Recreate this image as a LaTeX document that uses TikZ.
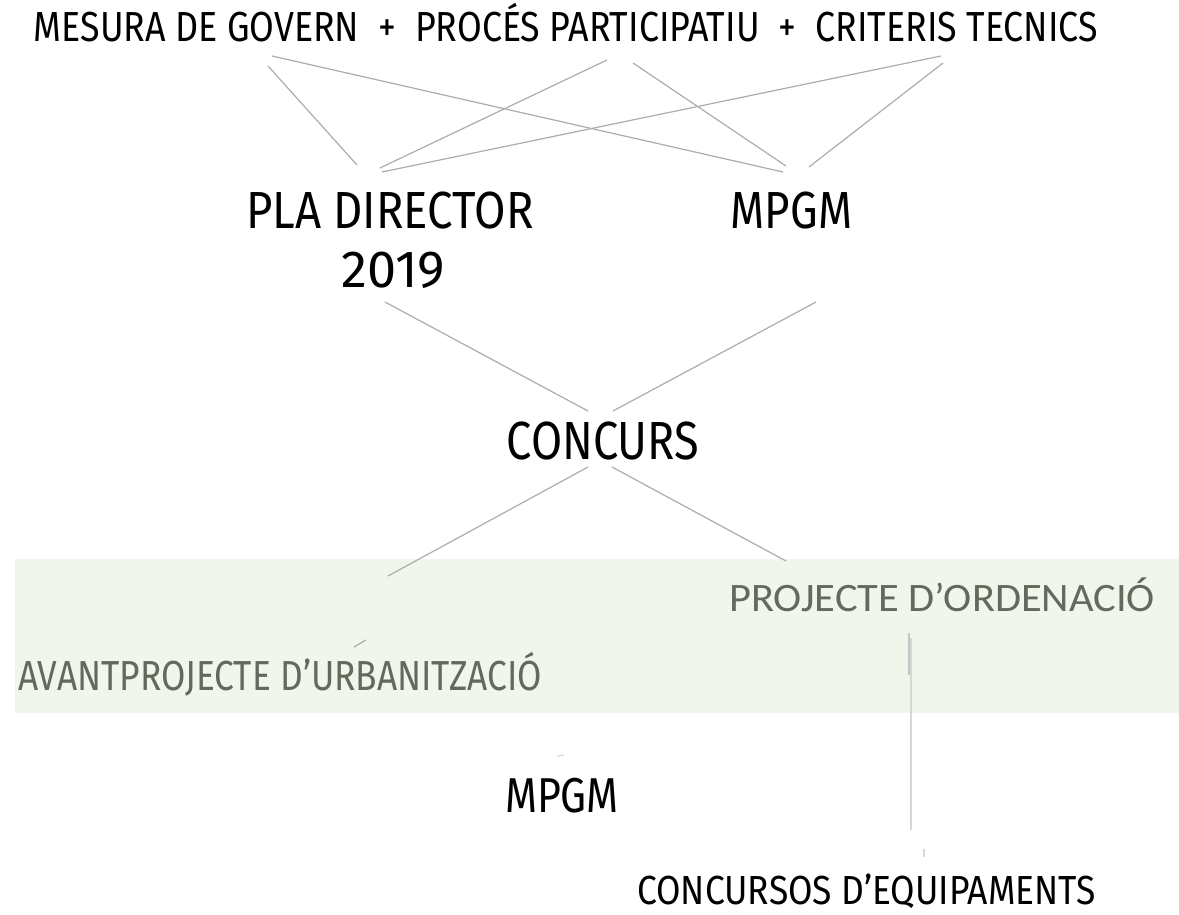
\documentclass[tikz,border=0pt]{standalone}
\usepackage{fontspec}
\usepackage[RGB]{xcolor}
\setmainfont{Fira Sans}
\newfontfamily\dinfont[FakeStretch=0.84]{Fira Sans}
\newfontfamily\dintop[FakeStretch=0.852]{Fira Sans}
\newfontfamily\dinwide[FakeStretch=0.872]{Fira Sans}
\newfontfamily\digfont[FakeStretch=1.0]{Fira Sans}
\newfontfamily\calfont[FakeStretch=1.05]{Carlito}
\definecolor{band}{RGB}{240,246,236}
\definecolor{sage}{RGB}{98,106,92}
\definecolor{wire}{RGB}{172,172,172}
\definecolor{pale}{RGB}{214,214,214}
\tikzset{
  txt/.style={inner sep=0pt, anchor=base},
  link/.style={draw=wire, line width=1.2pt},
}

\begin{document}
\begin{tikzpicture}[x=1pt,y=-1pt]
\useasboundingbox (0,0) rectangle (1179,915);
\fill[band] (15,559) rectangle (1179,713);
% texts
\node[txt, font=\dintop\fontsize{42}{50}\selectfont] (top) at (566,42)
  {MESURA DE GOVERN \ + \ PROCÉS PARTICIPATIU \ + \ CRITERIS TECNICS};
\node[txt, font=\dinwide\fontsize{52.2}{60}\selectfont] (pla) at (390,229) {PLA DIRECTOR};
\node[txt, font=\digfont\fontsize{52.2}{60}\selectfont] (playear) at (393.5,287) {2019};
\node[txt, font=\dinfont\fontsize{52.2}{60}\selectfont] (mpgm) at (791.5,229) {MPGM};
\node[txt, font=\dinfont\fontsize{53.7}{60}\selectfont] (concurs) at (603,459) {CONCURS};
\node[txt, anchor=base west, text=sage, font=\calfont\fontsize{40.4}{45}\selectfont] (ordenacio) at (729,611) {PROJECTE D’ORDENACIÓ};
\node[txt, anchor=base west, text=sage, font=\dinfont\fontsize{42}{45}\selectfont] (avant) at (18,690) {AVANTPROJECTE D’URBANITZACIÓ};
\node[txt, font=\dinfont\fontsize{49}{55}\selectfont] (mpgmb) at (562,812) {MPGM};
\node[txt, anchor=base west, font=\dinwide\fontsize{40.6}{45}\selectfont] (equip) at (637,904) {CONCURSOS D’EQUIPAMENTS};
% line ends
\coordinate (mesA) at (268,66);  \coordinate (mesB) at (272,56);
\coordinate (proA) at (607,60);  \coordinate (proB) at (633,63);
\coordinate (criA) at (941,56);  \coordinate (criB) at (943,63);
\coordinate (plaA) at (357,165); \coordinate (plaB) at (380,168); \coordinate (plaC) at (382,172);
\coordinate (mpgA) at (783,172); \coordinate (mpgB) at (786,166); \coordinate (mpgC) at (809,167);
\coordinate (plaD) at (385,302); \coordinate (mpgD) at (816,302);
\coordinate (conA) at (588,411); \coordinate (conB) at (613,411);
\coordinate (conC) at (588,467); \coordinate (conD) at (612,467);
\coordinate (avaA) at (388,576); \coordinate (ordA) at (786,561);
\draw[link] (mesA) -- (plaA);
\draw[link] (mesB) -- (mpgA);
\draw[link] (proA) -- (plaB);
\draw[link] (proB) -- (mpgB);
\draw[link] (criA) -- (plaC);
\draw[link] (criB) -- (mpgC);
\draw[link] (plaD) -- (conA);
\draw[link] (mpgD) -- (conB);
\draw[link] (conC) -- (avaA);
\draw[link] (conD) -- (ordA);
% small marks
\draw[link] (354,647) -- (366,640);
\draw[draw=pale, line width=1.5pt] (911,638) -- (911,830);
\draw[draw=wire!70, line width=2pt] (909,633) -- (909,675);
\draw[draw=pale, line width=1.2pt] (924,849) -- (924,857);
\draw[draw=pale, line width=1.2pt] (557,756) -- (564,755);
\end{tikzpicture}
\end{document}
